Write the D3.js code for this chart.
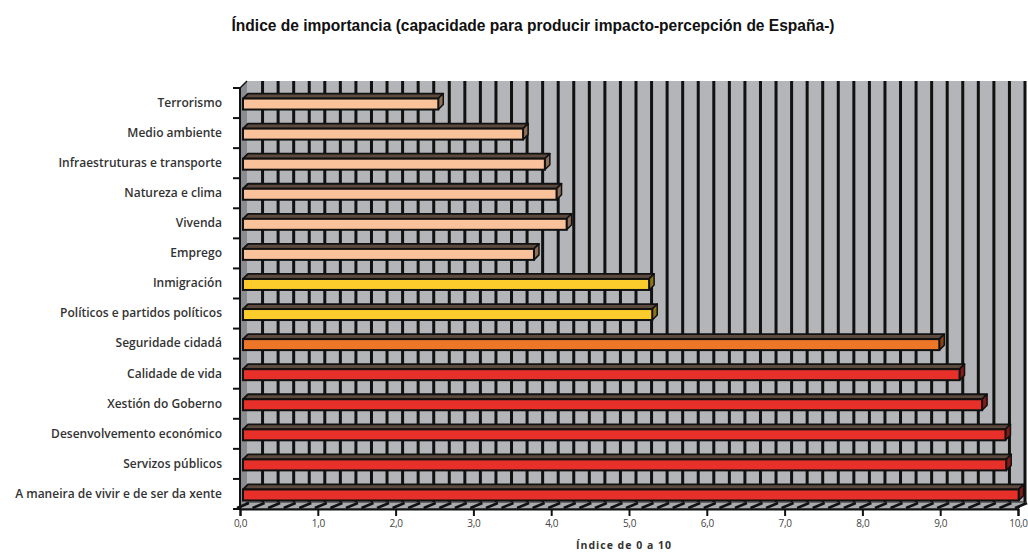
<!DOCTYPE html>
<html><head><meta charset="utf-8">
<script src="https://cdn.jsdelivr.net/npm/d3@7"></script>
<style>body{margin:0;background:#fff}svg{display:block}</style>
</head><body>
<script>
// ---- data ----
const categories = ["Terrorismo","Medio ambiente","Infraestruturas e transporte","Natureza e clima","Vivenda","Emprego","Inmigración","Políticos e partidos políticos","Seguridade cidadá","Calidade de vida","Xestión do Goberno","Desenvolvemento económico","Servizos públicos","A maneira de vivir e de ser da xente"];
const values = [2.51, 3.60, 3.88, 4.03, 4.16, 3.74, 5.22, 5.26, 8.95, 9.21, 9.50, 9.80, 9.81, 9.97];
const tiers = ["c","c","c","c","c","c","b","b","a","top","top","top","top","top"];
const xTicks = [0,1,2,3,4,5,6,7,8,9,10];
const gridValues = d3.range(1, 51).map(i => i / 5);
const title = "Índice de importancia (capacidade para producir impacto-percepción de España-)";
const xTitle = "Índice de 0 a 10";

// ---- layout / style ----
const W = 1028, H = 553;
const x0 = 240, x1 = 1018, yTop = 88, yBot = 509, D = 7, BD = 5;
const color = d3.scaleOrdinal().domain(["c","b","a","top"]).range(["#f9c29a","#fccb2c","#ee7629","#e8302a"]);

const svg = d3.select("body").append("svg").attr("width", W).attr("height", H);
const x = d3.scaleLinear().domain([0, 10]).range([x0, x1]);
const y = d3.scaleBand().domain(categories).range([yTop, yBot]);

// title
svg.append("text").attr("x", 533).attr("y", 31).attr("text-anchor", "middle")
  .attr("font-family", "Liberation Sans Narrow, Liberation Sans, Arial, sans-serif").attr("font-weight", "bold")
  .attr("font-size", 16).attr("fill", "#111")
  .attr("textLength", 603).attr("lengthAdjust", "spacingAndGlyphs").text(title);

// back wall
svg.append("rect").attr("x", x0 + D).attr("y", yTop - D).attr("width", x1 - x0).attr("height", yBot - yTop)
  .attr("fill", "#b3b5b8");
svg.append("g").selectAll("line").data(gridValues).join("line")
  .attr("x1", d => x(d) + D).attr("x2", d => x(d) + D)
  .attr("y1", yTop - D).attr("y2", yBot - D)
  .attr("stroke", "#111").attr("stroke-width", 3);

// left wall
svg.append("path").attr("d", `M${x0},${yTop}L${x0+D},${yTop-D}L${x0+D},${yBot-D}L${x0},${yBot}Z`)
  .attr("fill", "#8a8c8f");

// floor
svg.append("path").attr("d", `M${x0},${yBot}L${x0+D},${yBot-D}L${x1+D},${yBot-D}L${x1},${yBot}Z`)
  .attr("fill", "#a8aaad").attr("stroke", "#222").attr("stroke-width", 1);
svg.append("g").selectAll("line").data([0].concat(gridValues)).join("line")
  .attr("x1", d => x(d) - 3).attr("y1", yBot - 1)
  .attr("x2", d => x(d) + D + 2).attr("y2", yBot - D + 1)
  .attr("stroke", "#111").attr("stroke-width", 2.5);

// bars
const bars = svg.append("g").selectAll("g").data(categories).join("g");
const BX = 3, BH = 11;
function geo(c, i) {
  const xl = x(0) + BX, xr = x(values[i]) + BX;
  const yc = y(c) + y.bandwidth() / 2 + 1;
  return { xl, xr, yt: yc - BH / 2, yb: yc + BH / 2 };
}
bars.append("path").attr("d", (c, i) => { const g = geo(c, i);
  return `M${g.xl},${g.yt}L${g.xl+BD},${g.yt-BD}L${g.xr+BD},${g.yt-BD}L${g.xr},${g.yt}Z`; })
  .attr("fill", "#5c4a3e").attr("stroke", "#111").attr("stroke-width", 1.8).attr("stroke-linejoin", "round");
bars.append("path").attr("d", (c, i) => { const g = geo(c, i);
  return `M${g.xr},${g.yt}L${g.xr+BD},${g.yt-BD}L${g.xr+BD},${g.yb-BD}L${g.xr},${g.yb}Z`; })
  .attr("fill", (c, i) => d3.color(color(tiers[i])).darker(1.6)).attr("stroke", "#111").attr("stroke-width", 1.5).attr("stroke-linejoin", "round");
bars.append("rect").attr("x", (c, i) => geo(c, i).xl).attr("y", (c, i) => geo(c, i).yt)
  .attr("width", (c, i) => geo(c, i).xr - geo(c, i).xl).attr("height", BH)
  .attr("fill", (c, i) => color(tiers[i])).attr("stroke", "#111").attr("stroke-width", 2);

// axes lines
svg.append("line").attr("x1", x0).attr("x2", x0).attr("y1", yTop).attr("y2", yBot).attr("stroke", "#111").attr("stroke-width", 2);
svg.append("line").attr("x1", x0).attr("x2", x0 + D).attr("y1", yTop).attr("y2", yTop - D).attr("stroke", "#111").attr("stroke-width", 1.5);

// category axis (labels)
const yAxis = svg.append("g").attr("transform", `translate(${x0 - 18},0)`)
  .call(d3.axisLeft(y).tickSize(0).tickPadding(0));
yAxis.select(".domain").remove();
yAxis.selectAll("text").attr("font-family", "Open Sans, sans-serif").attr("font-weight", 600)
  .attr("font-size", 12).attr("fill", "#333").attr("dy", "0.32em");
// boundary ticks
svg.append("g").selectAll("line").data(d3.range(categories.length + 1)).join("line")
  .attr("x1", x0 - 7).attr("x2", x0).attr("y1", i => yTop + i * y.step()).attr("y2", i => yTop + i * y.step())
  .attr("stroke", "#111").attr("stroke-width", 2);

// x axis
const fmt = d => d3.format(".1f")(d).replace(".", ",");
const xAxis = svg.append("g").attr("transform", `translate(0,${yBot})`)
  .call(d3.axisBottom(x).tickValues(xTicks).tickFormat(fmt).tickSize(7).tickPadding(4));
xAxis.select(".domain").attr("stroke", "#111").attr("stroke-width", 2);
xAxis.selectAll(".tick line").attr("stroke", "#111").attr("stroke-width", 2);
xAxis.selectAll("text").attr("font-family", "Open Sans, sans-serif").attr("font-size", 10)
  .attr("fill", "#444").attr("letter-spacing", -0.3);

svg.append("text").attr("x", 624).attr("y", 549).attr("text-anchor", "middle")
  .attr("font-family", "Open Sans, sans-serif").attr("font-weight", "bold").attr("font-size", 10.5)
  .attr("letter-spacing", 1).attr("fill", "#333").text(xTitle);
</script>
</body></html>
